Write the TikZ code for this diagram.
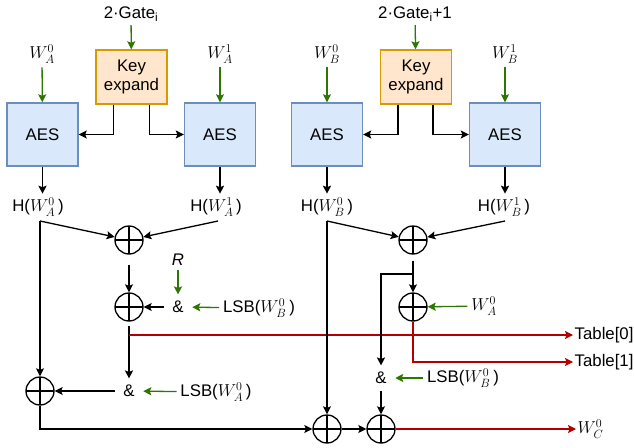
\documentclass[tikz,border=0pt]{standalone}
\usepackage{amsmath}
\usepackage{amssymb}
\usepackage{fontspec}
\setmainfont{Liberation Sans}
\usetikzlibrary{arrows.meta}
\definecolor{aesfill}{HTML}{DAE8FC}
\definecolor{aesline}{HTML}{6C8EBF}
\definecolor{keyfill}{HTML}{FFE6CC}
\definecolor{keyline}{HTML}{D79B00}
\definecolor{ingreen}{HTML}{2D7600}
\definecolor{outred}{HTML}{B20000}
\begin{document}
\begin{tikzpicture}[x=1pt,y=-1pt,line width=1.3pt,>={Stealth[length=8pt,width=8pt,inset=1.5pt]},
	every node/.style={font=\fontsize{16.8}{19.5}\selectfont}]
						\tikzstyle{aes}=[rectangle,draw=aesline,fill=aesfill,line width=1.4pt,minimum width=71pt,minimum height=63pt]
						\tikzstyle{keyexp}=[rectangle,draw=keyline,fill=keyfill,line width=1.4pt,minimum width=71pt,minimum height=54pt,align=center,inner sep=0pt]
						\tikzstyle{xorop}=[circle,draw=black,minimum size=28pt,inner sep=0pt,path picture={\draw (path picture bounding box.north) -- (path picture bounding box.south) (path picture bounding box.west) -- (path picture bounding box.east);}]
						\tikzstyle{andop}=[inner xsep=8pt,inner ysep=6pt]
						\tikzstyle{inarrow}=[->,draw=ingreen]
						\tikzstyle{outarrow}=[->,draw=outred]
						\useasboundingbox (0,0) rectangle (634,447);
						\node (gA) at (131,14) {2·Gate\textsubscript{i}};
						\node (gB) at (415,14) {2·Gate\textsubscript{i}+1};
						\node[keyexp] (keyA) at (131.5,77) {Key\\expand};
						\node[keyexp] (keyB) at (416,77) {Key\\expand};
						\node (wA0) at (42,54) {$W_A^0$};
						\node (wA1) at (220,54) {$W_A^1$};
						\node (wB0) at (327,54) {$W_B^0$};
						\node (wB1) at (505,54) {$W_B^1$};
						\node[aes] (aesA0) at (42.5,134.5) {AES};
						\node[aes] (aesA1) at (220,134.5) {AES};
						\node[aes] (aesB0) at (327,134.5) {AES};
						\node[aes] (aesB1) at (505,134.5) {AES};
						\node (hA0) at (38,207) {H($W_A^0$\,)};
						\node (hA1) at (216,207) {H($W_A^1$\,)};
						\node (hB0) at (327,207) {H($W_B^0$\,)};
						\node (hB1) at (504,207) {H($W_B^1$\,)};
						\coordinate (hA0b) at (40,221);
						\coordinate (hA1b) at (218,221);
						\coordinate (hB0b) at (327,221);
						\coordinate (hB1b) at (505,221);
						\node[xorop] (xA1) at (129,240) {};
						\node[xorop] (xA2) at (129,307) {};
						\node[xorop] (xA3) at (40,391) {};
						\node[andop] (andA1) at (178,307) {\&};
						\node (rA) at (178,260) {\textit{R}};
						\node (lsbA1) at (259,308) {LSB($W_B^0$\,)};
						\node[andop] (andA2) at (129,391) {\&};
						\node (lsbA2) at (216,392) {LSB($W_A^0$\,)};
						\node[xorop] (xB1) at (413,240) {};
						\node[xorop] (xB2) at (413,307) {};
						\node (wA0b) at (484,306) {$W_A^0$};
						\node[andop] (andB) at (381,378) {\&};
						\node (lsbB) at (463,378) {LSB($W_B^0$\,)};
						\node[xorop] (xC1) at (327,429) {};
						\node[xorop] (xC2) at (381,429) {};
						\coordinate (splitA) at (129,335);
						\coordinate (splitB) at (413,274);
						\node[anchor=west,inner sep=1pt] (t0) at (573,335) {Table[0]};
						\node[anchor=west,inner sep=1pt] (t1) at (573,362) {Table[1]};
						\node[anchor=west,inner sep=1pt] (wC0) at (576,429) {$W_C^0$};
						\draw[inarrow] (gA) -- (keyA);
						\draw[inarrow] (gB) -- (keyB);
						\draw[inarrow] (wA0) -- (aesA0);
						\draw[inarrow] (wA1) -- (aesA1);
						\draw[inarrow] (wB0) -- (aesB0);
						\draw[inarrow] (wB1) -- (aesB1);
						\draw[->] ([xshift=-18pt]keyA.south) |- (aesA0.east);
						\draw[->] ([xshift=18pt]keyA.south) |- (aesA1.west);
						\draw[->] ([xshift=-18pt]keyB.south) |- (aesB0.east);
						\draw[->] ([xshift=17pt]keyB.south) |- (aesB1.west);
						\draw[->] (aesA0) -- (hA0.north -| aesA0);
						\draw[->] (aesA1) -- (hA1.north -| aesA1);
						\draw[->] (aesB0) -- (hB0.north -| aesB0);
						\draw[->] (aesB1) -- (hB1.north -| aesB1);
						\draw[->] (hA0b) -- (xA1);
						\draw[->] (hA1b) -- (xA1);
						\draw[->] (hA0b) -- (xA3);
						\draw[->,shorten <=10pt] (xA1) -- (xA2);
						\draw[inarrow] (rA) -- (andA1);
						\draw[inarrow] (lsbA1) -- (andA1);
						\draw[->] (andA1) -- (xA2);
						\draw[->,shorten <=4pt] (xA2) -- (andA2);
						\draw[inarrow] (lsbA2) -- (andA2);
						\draw[->] (andA2) -- (xA3);
						\draw[->] (xA3) |- (xC1);
						\draw[outarrow] (splitA) -- (t0);
						\draw[->] (hB0b) -- (xB1);
						\draw[->] (hB1b) -- (xB1);
						\draw[->] (hB0b) -- (xC1);
						\draw[->,shorten <=6pt] (xB1) -- (xB2);
						\draw[->] (splitB) -| (andB);
						\draw[inarrow] (wA0b) -- (xB2);
						\draw[outarrow] (xB2) |- (t1);
						\draw[inarrow] (lsbB) -- (andB);
						\draw[->] (andB) -- (xC2);
						\draw[->] (xC1) -- (xC2);
						\draw[outarrow] (xC2) -- (wC0);
						\end{tikzpicture}
\end{document}
